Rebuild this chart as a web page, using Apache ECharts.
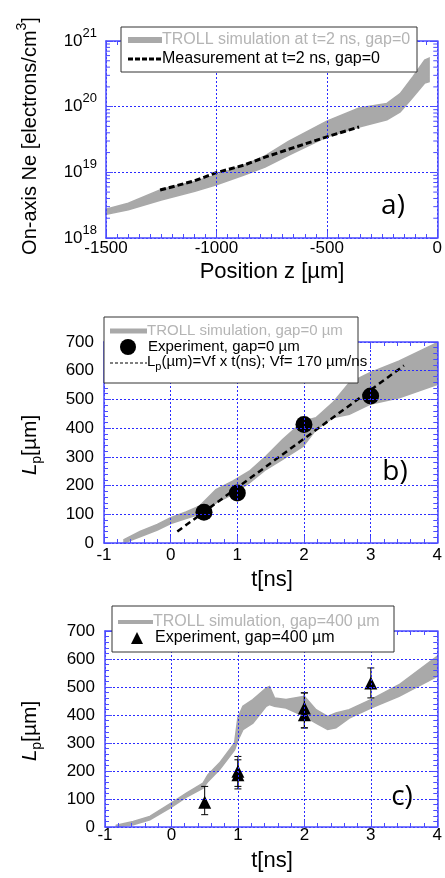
<!DOCTYPE html>
<html lang="en">
<head>
<meta charset="UTF-8">
<title>TROLL simulation vs experiment</title>
<script src="https://cdn.jsdelivr.net/npm/echarts@6/dist/echarts.min.js"></script>
<style>html,body{margin:0;padding:0;background:#fff;}</style>
</head>
<body>
<div id="chartmain" style="width:445px;height:878px;"></div>
<script type="text/javascript">

    // a) on-axis density vs position
    var zSim  = [-1500, -1399, -1250, -1098, -1000, -875, -780, -674, -500, -354, -228, -168, -109, -57, -37];
    var neHi  = [2.75e18, 3.39e18, 5.50e18, 7.24e18, 9.12e18, 1.29e19, 1.78e19, 2.95e19, 6.03e19, 9.55e19, 1.12e20, 1.58e20, 2.88e20, 5.13e20, 5.50e20];
    var neLo  = [2.29e18, 2.69e18, 3.80e18, 5.13e18, 6.46e18, 9.12e18, 1.20e19, 1.82e19, 3.47e19, 4.90e19, 6.31e19, 8.32e19, 1.41e20, 2.29e20, 2.40e20];
    var zMeas  = [-1255, -1100, -1000, -875, -780, -674, -500, -354];
    var neMeas = [5.37e18, 7.41e18, 9.89e18, 1.29e19, 1.70e19, 2.24e19, 3.47e19, 4.90e19];
    var logDecades = [18, 19, 20];
    var logMinorMult = [2, 3, 4, 5, 6, 7, 8, 9];

    // b) gap = 0
    var tSimB  = [-0.70, -0.46, -0.2, 0, 0.23, 0.43, 0.68, 0.93, 1.18, 1.43, 1.68, 1.99, 2.18, 2.43, 2.68, 2.99, 3.43, 4.0];
    var lpHiB  = [12, 40, 65, 88, 108, 128, 186, 215, 250, 302, 360, 424, 436, 488, 558, 593, 634, 698];
    var lpLoB  = [0, 22, 45, 68, 85, 100, 140, 169, 209, 256, 291, 337, 395, 436, 448, 483, 506, 552];
    var tExpB  = [0.5, 1, 2, 3];
    var lpExpB = [107, 174, 413, 512];
    var tFit   = [0.1, 3.5];
    var lpFit  = [40, 618];

    // c) gap = 400 um
    var tSimC  = [-0.83, -0.575, -0.325, 0, 0.225, 0.475, 0.55, 0.725, 0.95, 1.0, 1.075, 1.225, 1.425, 1.475, 1.55, 1.725, 2.0, 2.175, 2.35, 2.475, 2.675, 3.0, 3.425, 4.0];
    var lpHiC  = [6, 20, 38, 86, 121, 157, 187, 229, 300, 390, 431, 455, 496, 502, 461, 455, 467, 419, 395, 407, 419, 455, 508, 610];
    var lpLoC  = [0, 8, 26, 71, 107, 139, 163, 205, 275, 310, 348, 371, 431, 437, 431, 425, 395, 371, 348, 354, 389, 425, 467, 538];
    var tExpC  = [0.5, 1, 1, 2, 2, 3];
    var lpExpC = [88, 187, 199, 425, 401, 514];
    var errLoC = [44, 136, 145, 354, 354, 461];
    var errHiC = [145, 252, 240, 479, 479, 568];

    var font = 'Liberation Sans';
    var gray = '#a9a9a9';
    var frame = '#4b4bff';
    var gridBlue = '#2a2aff';

    function zip3(xs, a, b) {
        return xs.map(function (x, i) { return [x, a[i], b[i]]; });
    }
    function zip2(xs, a) {
        return xs.map(function (x, i) { return [x, a[i]]; });
    }

    // band drawn as one polygon through the axis scales
    function bandItem(xs, lo, hi) {
        return function (params, api) {
            if (params.dataIndex !== 0) return null;
            var pts = [];
            for (var i = 0; i < xs.length; i++) pts.push(api.coord([xs[i], hi[i]]));
            for (var j = xs.length - 1; j >= 0; j--) pts.push(api.coord([xs[j], lo[j]]));
            return {type: 'polygon', shape: {points: pts}, style: {fill: gray, stroke: gray, lineWidth: 1.5}};
        };
    }

    function errItem(params, api) {
        var x = api.value(0);
        var p1 = api.coord([x, api.value(1)]);
        var p2 = api.coord([x, api.value(2)]);
        var st = {stroke: '#000', lineWidth: 1};
        return {type: 'group', children: [
            {type: 'line', shape: {x1: p1[0], y1: p1[1], x2: p2[0], y2: p2[1]}, style: st},
            {type: 'line', shape: {x1: p1[0] - 3.5, y1: p1[1], x2: p1[0] + 3.5, y2: p1[1]}, style: st},
            {type: 'line', shape: {x1: p2[0] - 3.5, y1: p2[1], x2: p2[0] + 3.5, y2: p2[1]}, style: st}
        ]};
    }

    // minor ticks of the log axis (2..9 x 10^n) on left and right edges
    var logTickVals = [];
    logDecades.forEach(function (d) {
        logMinorMult.forEach(function (m) { logTickVals.push([m * Math.pow(10, d)]); });
    });
    function logTickItem(params, api) {
        var v = api.value(0);
        var l = api.coord([-1500, v]);
        var r = api.coord([0, v]);
        var st = {stroke: frame, lineWidth: 1};
        return {type: 'group', children: [
            {type: 'line', shape: {x1: l[0], y1: l[1], x2: l[0] + 4, y2: l[1]}, style: st},
            {type: 'line', shape: {x1: r[0], y1: r[1], x2: r[0] - 4, y2: r[1]}, style: st}
        ]};
    }

    function valAxis(opt, grid, pos, labels, margin) {
        var ax = {
            type: 'value', gridIndex: grid, position: pos,
            min: opt.min, max: opt.max, interval: opt.interval,
            axisLine: {show: true, onZero: false, lineStyle: {color: frame, width: 1.5}},
            axisTick: {show: true, inside: true, length: 7, lineStyle: {color: frame}},
            minorTick: {show: opt.minor !== false, splitNumber: opt.split || 5, length: 4, lineStyle: {color: frame}},
            splitLine: {show: labels, lineStyle: {color: gridBlue, type: [2, 2], width: 1}},
            axisLabel: {show: labels, color: '#000', fontFamily: font, fontSize: 17, margin: margin,
                        formatter: function (v) { return String(v); }},
            z: 5
        };
        return ax;
    }

    var xAxes = [
        valAxis({min: -1500, max: 0, interval: 500, split: 10}, 0, 'bottom', true, 2),
        valAxis({min: -1500, max: 0, interval: 500, split: 10}, 0, 'top', false, 0),
        valAxis({min: -1, max: 4, interval: 1}, 1, 'bottom', true, 4),
        valAxis({min: -1, max: 4, interval: 1}, 1, 'top', false, 0),
        valAxis({min: -1, max: 4, interval: 1}, 2, 'bottom', true, 0),
        valAxis({min: -1, max: 4, interval: 1}, 2, 'top', false, 0)
    ];

    function logAxis(pos, labels) {
        return {
            type: 'log', logBase: 10, gridIndex: 0, position: pos,
            min: 1e18, max: 1e21,
            axisLine: {show: true, onZero: false, lineStyle: {color: frame, width: 1.5}},
            axisTick: {show: true, inside: true, length: 7, lineStyle: {color: frame}},
            minorTick: {show: false},
            splitLine: {show: labels, lineStyle: {color: gridBlue, type: [2, 2], width: 1}},
            axisLabel: {
                show: labels, margin: 9,
                formatter: function (v) { return '{b|10}{s|' + Math.round(Math.log10(v)) + '}'; },
                rich: {
                    b: {fontFamily: font, fontSize: 17, color: '#000'},
                    s: {fontFamily: font, fontSize: 13, color: '#000', padding: [0, 0, 16, 0]}
                }
            },
            z: 5
        };
    }

    var yAxes = [
        logAxis('left', true),
        logAxis('right', false),
        valAxis({min: 0, max: 700, interval: 100}, 1, 'left', true, 10),
        valAxis({min: 0, max: 700, interval: 100}, 1, 'right', false, 0),
        valAxis({min: 0, max: 700, interval: 100}, 2, 'left', true, 10),
        valAxis({min: 0, max: 700, interval: 100}, 2, 'right', false, 0)
    ];

    function txt(x, y, text, size, color, extra) {
        var el = {
            type: 'text', x: x, y: y, z: 100,
            style: {text: text, fontFamily: font, fontSize: size, fill: color || '#000',
                    textAlign: 'left', textVerticalAlign: 'middle', align: 'left', verticalAlign: 'middle'}
        };
        if (extra) {
            for (var k in extra) {
                if (k === 'style') { for (var s in extra.style) el.style[s] = extra.style[s]; }
                else el[k] = extra[k];
            }
        }
        return el;
    }
    function box(x, y, w, h) {
        return {type: 'rect', z: 99, shape: {x: x, y: y, width: w, height: h},
                style: {fill: '#fff', stroke: '#333', lineWidth: 1}};
    }
    function seg(x1, y1, x2, y2, st) {
        return {type: 'line', z: 100, shape: {x1: x1, y1: y1, x2: x2, y2: y2}, style: st};
    }
    var center = {textAlign: 'center', align: 'center'};
    var lpRich = {
        i: {fontFamily: font, fontSize: 21, fontStyle: 'italic', color: '#000'},
        sub: {fontFamily: font, fontSize: 14, color: '#000', padding: [14, 0, 0, 0]},
        m: {fontFamily: font, fontSize: 21, color: '#000'}
    };

    var graphics = [
        // legend a
        box(121, 27, 296, 45),
        seg(128, 40, 162, 40, {stroke: gray, lineWidth: 6}),
        txt(162, 40, 'TROLL simulation at t=2 ns, gap=0', 16, '#b4b4b4'),
        seg(128, 59, 162, 59, {stroke: '#000', lineWidth: 3, lineDash: [5, 2]}),
        txt(162, 59, 'Measurement at t=2 ns, gap=0', 16, '#000'),
        // legend b
        box(104, 317, 254, 66),
        seg(110, 331, 147, 331, {stroke: gray, lineWidth: 5}),
        txt(147, 331, 'TROLL simulation, gap=0 µm', 15, '#b4b4b4'),
        {type: 'circle', z: 100, shape: {cx: 128, cy: 347, r: 8}, style: {fill: '#000'}},
        txt(148, 347, 'Experiment, gap=0 µm', 15, '#000'),
        seg(110, 363, 147, 363, {stroke: '#000', lineWidth: 1.2, lineDash: [3, 2]}),
        txt(147, 362, '{n|L}{sub|p}{n|(µm)=Vf x t(ns); Vf= 170 µm/ns}', 15, '#000', {style: {rich: {
            n: {fontFamily: font, fontSize: 15, color: '#000'},
            sub: {fontFamily: font, fontSize: 11, color: '#000', padding: [10, 0, 0, 0]}
        }}}),
        // legend c
        box(112, 606, 282, 46),
        seg(118, 622, 153, 622, {stroke: gray, lineWidth: 4}),
        txt(153, 622, 'TROLL simulation, gap=400 µm', 16, '#b4b4b4'),
        {type: 'polygon', z: 100, shape: {points: [[137, 632], [143, 644], [131, 644]]}, style: {fill: '#000'}},
        txt(155, 638, 'Experiment, gap=400 µm', 16, '#000'),
        // axis titles
        txt(30, 136, '{m|On-axis Ne [electrons/cm}{s|3}{m|]}', 20, '#000', {rotation: Math.PI / 2, style: {
            textAlign: 'center', align: 'center',
            rich: {m: {fontFamily: font, fontSize: 20, color: '#000'},
                   s: {fontFamily: font, fontSize: 14, color: '#000', padding: [0, 0, 16, 0]}}}}),
        txt(272, 272, 'Position z [µm]', 22, '#000', {style: center}),
        txt(30, 445, '{i|L}{sub|p}{m|[µm]}', 21, '#000', {rotation: Math.PI / 2, style: {
            textAlign: 'center', align: 'center', rich: lpRich}}),
        txt(272, 580, 't[ns]', 22, '#000', {style: center}),
        txt(30, 731, '{i|L}{sub|p}{m|[µm]}', 21, '#000', {rotation: Math.PI / 2, style: {
            textAlign: 'center', align: 'center', rich: lpRich}}),
        txt(272, 861, 't[ns]', 22, '#000', {style: center}),
        // panel letters
        txt(393, 206, 'a)', 28, '#000', {style: {textAlign: 'center', align: 'center', fontFamily: 'Open Sans'}}),
        txt(395, 472, 'b)', 28, '#000', {style: {textAlign: 'center', align: 'center', fontFamily: 'Open Sans'}}),
        txt(402, 797, 'c)', 28, '#000', {style: {textAlign: 'center', align: 'center', fontFamily: 'Open Sans'}})
    ];

    var option = {
        backgroundColor: '#fff',
        animation: false,
        grid: [
            {left: 106, top: 41, width: 335.5, height: 197},
            {left: 104, top: 342, width: 334, height: 201},
            {left: 105, top: 631, width: 333, height: 196}
        ],
        xAxis: xAxes,
        yAxis: yAxes,
        graphic: graphics,
        series: [
            {type: 'custom', xAxisIndex: 0, yAxisIndex: 0, renderItem: bandItem(zSim, neLo, neHi),
             data: zip3(zSim, neLo, neHi), encode: {x: 0, y: [1, 2]}, z: 2},
            {type: 'line', xAxisIndex: 0, yAxisIndex: 0, data: zip2(zMeas, neMeas), symbol: 'none',
             lineStyle: {color: '#000', width: 3, type: [6, 3]}, z: 3},
            {type: 'custom', xAxisIndex: 0, yAxisIndex: 0, renderItem: logTickItem,
             data: logTickVals, encode: {y: 0}, z: 6, silent: true},

            {type: 'custom', xAxisIndex: 2, yAxisIndex: 2, renderItem: bandItem(tSimB, lpLoB, lpHiB),
             data: zip3(tSimB, lpLoB, lpHiB), encode: {x: 0, y: [1, 2]}, z: 2},
            {type: 'line', xAxisIndex: 2, yAxisIndex: 2, data: zip2(tFit, lpFit), symbol: 'none',
             lineStyle: {color: '#000', width: 2.5, type: [6, 4]}, z: 3},
            {type: 'scatter', xAxisIndex: 2, yAxisIndex: 2, data: zip2(tExpB, lpExpB), symbol: 'circle',
             symbolSize: 17, itemStyle: {color: '#000', opacity: 1}, z: 4},

            {type: 'custom', xAxisIndex: 4, yAxisIndex: 4, renderItem: bandItem(tSimC, lpLoC, lpHiC),
             data: zip3(tSimC, lpLoC, lpHiC), encode: {x: 0, y: [1, 2]}, z: 2},
            {type: 'custom', xAxisIndex: 4, yAxisIndex: 4, renderItem: errItem,
             data: zip3(tExpC, errLoC, errHiC), encode: {x: 0, y: [1, 2]}, z: 3},
            {type: 'scatter', xAxisIndex: 4, yAxisIndex: 4, data: zip2(tExpC, lpExpC), symbol: 'triangle',
             symbolSize: 13, itemStyle: {color: '#000', opacity: 1}, z: 4}
        ]
    };

    var myChart = echarts.init(document.getElementById('chartmain'));
    myChart.setOption(option);

</script>
</body>
</html>
